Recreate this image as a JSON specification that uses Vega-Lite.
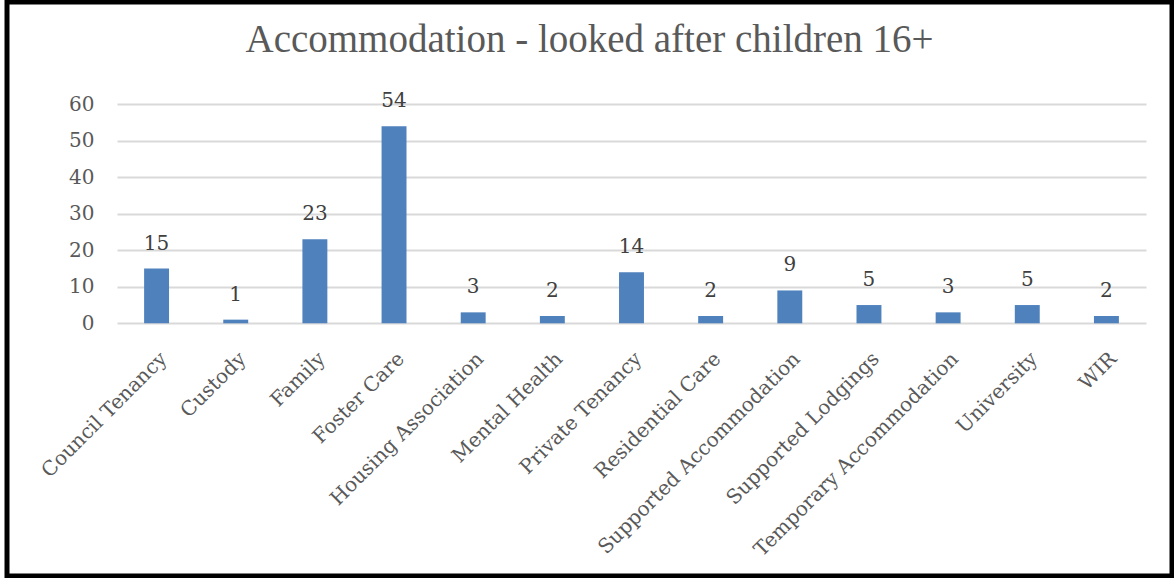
{
  "$schema": "https://vega.github.io/schema/vega-lite/v6.json",
  "width": 1165,
  "height": 574,
  "autosize": {"type": "none"},
  "padding": {"left": 7, "top": 2, "right": 2, "bottom": 2},
  "background": "white",
  "title": {
    "text": "Accommodation - looked after children 16+",
    "font": "Liberation Serif",
    "fontSize": 39,
    "fontWeight": "normal",
    "color": "#595959",
    "frame": "group",
    "anchor": "middle",
    "offset": -58
  },
  "data": {
    "values": [
      {"place": "Council Tenancy", "count": 15},
      {"place": "Custody", "count": 1},
      {"place": "Family", "count": 23},
      {"place": "Foster Care", "count": 54},
      {"place": "Housing Association", "count": 3},
      {"place": "Mental Health", "count": 2},
      {"place": "Private Tenancy", "count": 14},
      {"place": "Residential Care", "count": 2},
      {"place": "Supported Accommodation", "count": 9},
      {"place": "Supported Lodgings", "count": 5},
      {"place": "Temporary Accommodation", "count": 3},
      {"place": "University", "count": 5},
      {"place": "WIR", "count": 2}
    ]
  },
  "encoding": {
    "x": {
      "field": "place",
      "type": "nominal",
      "sort": null,
      "scale": {"range": [110, 1139], "paddingInner": 0.685, "paddingOuter": 0.3425},
      "axis": {
        "title": null,
        "offset": -252.7,
        "domain": false,
        "ticks": false,
        "tickSize": 0,
        "labelAngle": -45,
        "labelAlign": "right",
        "labelBaseline": "top",
        "labelPadding": 25,
        "labelFont": "DejaVu Serif",
        "labelFontSize": 20,
        "labelColor": "#595959",
        "labelLimit": 400,
        "grid": false
      }
    },
    "y": {
      "field": "count",
      "type": "quantitative",
      "scale": {"domain": [0, 60], "range": [321.3, 102.3], "nice": false},
      "axis": {
        "title": null,
        "offset": -109.7,
        "values": [0, 10, 20, 30, 40, 50, 60],
        "domain": false,
        "ticks": false,
        "tickSize": 0,
        "labelPadding": 22.7,
        "labelFont": "DejaVu Serif",
        "labelFontSize": 20,
        "labelColor": "#595959",
        "grid": true,
        "gridColor": "#D9D9D9",
        "gridWidth": 2
      }
    }
  },
  "layer": [
    {"mark": {"type": "bar", "color": "#4F81BD"}},
    {
      "mark": {"type": "text", "baseline": "alphabetic", "dy": -19, "font": "DejaVu Serif", "fontSize": 20, "color": "#404040"},
      "encoding": {"text": {"field": "count", "type": "quantitative"}}
    }
  ],
  "config": {"view": {"stroke": "black", "strokeWidth": 5}}
}
